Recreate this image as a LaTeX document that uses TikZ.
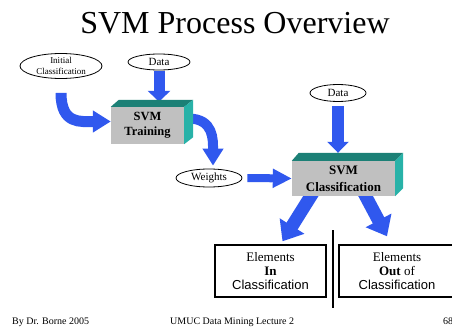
\documentclass[tikz,border=0pt]{standalone}
\usepackage{fontspec}
\setmainfont{Liberation Serif}
\newfontfamily\arialfont{Liberation Sans}
\usetikzlibrary{shapes.geometric,arrows.meta,calc}
\definecolor{arrowblue}{RGB}{48,88,238}
\definecolor{boxgray}{RGB}{192,192,192}
\definecolor{tealtop}{RGB}{28,128,118}
\definecolor{tealside}{RGB}{40,178,168}
\pgfdeclarelayer{bg}
\pgfdeclarelayer{paper}
\pgfsetlayers{paper,bg,main}
\begin{document}
\begin{tikzpicture}[x=1pt,y=-1pt,
  oval/.style={ellipse,draw=black,line width=0.8pt,inner sep=0pt,align=center},
  front/.style={fill=boxgray,inner sep=0pt,align=center,font=\bfseries},
  topface/.style={fill=tealtop},
  sideface/.style={fill=tealside},
  resultbox/.style={draw=black,line width=1.4pt,fill=white,inner sep=0pt,align=center,
    minimum height=52pt,font=\fontsize{13}{14}\selectfont},
  fatarrow/.style args={#1/#2/#3}{draw=arrowblue,line width=#1,
    -{Triangle[width=#2,length=#3]}},
  footer/.style={anchor=base west,inner sep=0pt,font=\fontsize{10}{12}\selectfont}
]
\clip (0,0) rectangle (452,334);
\useasboundingbox (0,0) rectangle (452,334);
\begin{pgfonlayer}{paper}
\fill[white] (0,0) rectangle (452,334);
\end{pgfonlayer}

% title
\node[inner sep=0pt] (title) at (235,23) {\fontsize{32}{36}\selectfont SVM Process Overview};

% ellipses
\node[oval,minimum width=82pt,minimum height=25pt,font=\fontsize{9}{10.5}\selectfont]
  (ic) at (61,66) {Initial\\Classification};
\node[oval,minimum width=62pt,minimum height=16pt,font=\fontsize{11}{12}\selectfont]
  (d1) at (159,62) {Data};
\node[oval,minimum width=56pt,minimum height=17pt,font=\fontsize{11}{12}\selectfont]
  (d2) at (338,93) {Data};
\node[oval,minimum width=66pt,minimum height=18pt,font=\fontsize{11}{12}\selectfont]
  (w) at (209,178) {Weights};

% SVM Training box
\node[front,minimum width=73pt,minimum height=37pt,font=\fontsize{12.5}{15}\selectfont\bfseries]
  (tr) at (147.5,125.5) {SVM\\Training};
\fill[topface] (tr.north west) -- ++(8,-7) -- ($(tr.north east)+(9,-7)$) -- (tr.north east) -- cycle;
\fill[sideface] (tr.north east) -- ++(9,-7) -- ($(tr.south east)+(9,-7)$) -- (tr.south east) -- cycle;

% SVM Classification box
\node[front,minimum width=103pt,minimum height=35pt,font=\fontsize{13}{17}\selectfont\bfseries]
  (cl) at (343.5,178.5) {SVM\\Classification};
\fill[topface] (cl.north west) -- ++(7,-8) -- ($(cl.north east)+(8,-8)$) -- (cl.north east) -- cycle;
\fill[sideface] (cl.north east) -- ++(8,-8) -- ($(cl.south east)+(8,-8)$) -- (cl.south east) -- cycle;

% result boxes
\node[resultbox,minimum width=111pt] (inbox) at (270.5,271)
  {Elements\\\textbf{In}\\\arialfont Classification};
\node[resultbox,minimum width=116pt] (outbox) at (397,271)
  {Elements\\\textbf{Out} of\\\arialfont Classification};

% divider
\coordinate (divtop) at (333,230);
\coordinate (divbot) at (333,308);
\draw[line width=1.4pt] (divtop) -- (divbot);

% arrows
\coordinate (trtop) at ($(tr.north)+(0,-5)$);
\coordinate (cltop) at ($(cl.north)+(0,-8)$);
\begin{pgfonlayer}{bg}
\draw[fatarrow=11pt/21pt/18pt] ($(ic.south)+(0,14)$) .. controls +(0,32) and +(-30,0) ..
  ($(tr.west)+(0,-4)$);
\draw[fatarrow=11pt/22pt/11pt] ($(d1.south)+(0,1)$) -- (d1.south |- trtop);
\draw[fatarrow=10pt/20pt/17pt] ($(tr.east)+(4,-7)$) .. controls +(26,0) and +(0,-25) ..
  ($(w.north)+(4,-3)$);
\draw[fatarrow=8pt/18pt/19pt] ($(w.east)+(5,0)$) -- (cl.west);
\draw[fatarrow=12pt/21pt/11pt] ($(d2.south)+(0,4)$) -- (d2.south |- cltop);
\draw[fatarrow=13pt/28pt/18pt] ($(cl.south)+(-29,-6)$) -- ($(inbox.north)+(12,-3)$);
\draw[fatarrow=13pt/28pt/18pt] ($(cl.south)+(19,-6)$) -- ($(outbox.north)+(-10,-8)$);
\end{pgfonlayer}

% footer
\node[footer] (f1) at (12,324) {By Dr. Borne 2005};
\node[footer] (f2) at (170,324) {UMUC Data Mining Lecture 2};
\node[footer] (f3) at (443,324) {68};
\end{tikzpicture}
\end{document}
